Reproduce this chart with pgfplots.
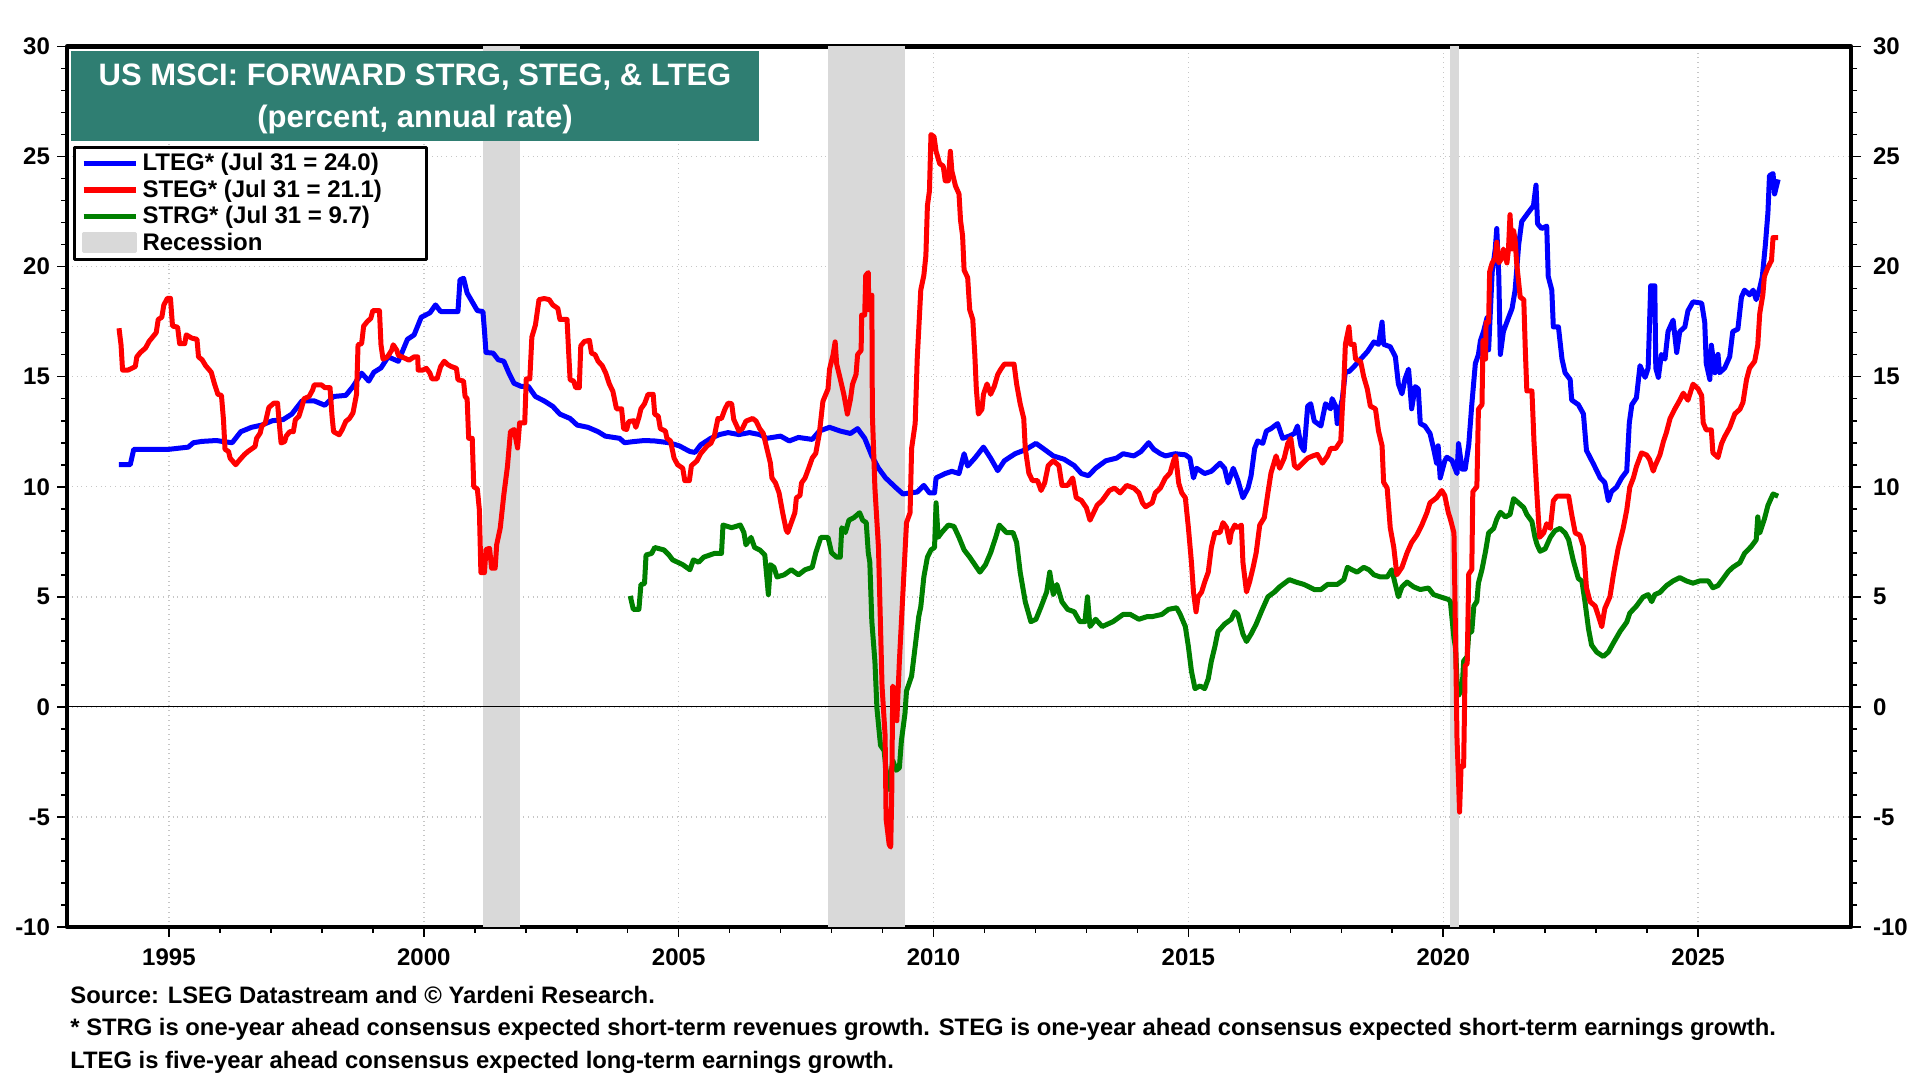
\documentclass[border=0pt]{standalone}
\usepackage{fontspec}
\setmainfont{Liberation Sans}
\usepackage{pgfplots}
\pgfplotsset{compat=1.18}
\definecolor{recgray}{RGB}{217,217,217}
\definecolor{titlegreen}{RGB}{47,126,114}
\definecolor{ltegblue}{RGB}{0,0,255}
\definecolor{stegred}{RGB}{255,0,0}
\definecolor{strggreen}{RGB}{0,128,0}
\newcommand{\tf}{\fontsize{12}{14}\selectfont\bfseries}
\pgfplotsset{
  mylegline/.style={legend image code/.code={\draw[##1] (0pt,0pt) -- (26pt,0pt);}},
  myleggray/.style={legend image code/.code={\fill[recgray] (0pt,-4.5pt) rectangle (26pt,4.5pt);}},
}
\begin{document}
\begin{tikzpicture}[x=1pt,y=1pt]
\useasboundingbox (0,0) rectangle (960,540);
\begin{axis}[
  at={(33.5pt,76.5pt)}, anchor=south west,
  scale only axis, width=892pt, height=440.25pt,
  xmin=1993, xmax=2028, ymin=-10, ymax=30,
  xtick={1995,2000,...,2025}, minor x tick num=4,
  ytick={-10,-5,...,30}, minor y tick num=4,
  tick align=outside, xtick pos=bottom, ytick pos=both, yticklabel pos=left,
  major tick length=5pt, minor tick length=3pt,
  tick style={black, line width=0.8pt},
  axis line style={line width=2.2pt},
  xmajorgrids, ymajorgrids,
  major grid style={gray!45, dotted, line width=0.7pt},
  /pgf/number format/assume math mode=true,
  /pgf/number format/1000 sep={},
  ticklabel style={font=\tf},
  xticklabel style={yshift=-2.5pt},
  legend style={at={(0.0036,0.887)}, anchor=north west, draw=black, line width=1.5pt,
    fill=white, font=\tf, inner xsep=3pt, inner ysep=1pt, row sep=-1pt},
  legend cell align=left,
  line join=round,
]
% recession bands
\addplot[fill=recgray, draw=none, forget plot] coordinates {(2001.17,-10) (2001.17,30) (2001.88,30) (2001.88,-10)} -- cycle;
\addplot[fill=recgray, draw=none, forget plot] coordinates {(2007.93,-10) (2007.93,30) (2009.45,30) (2009.45,-10)} -- cycle;
\addplot[fill=recgray, draw=none, forget plot] coordinates {(2020.13,-10) (2020.13,30) (2020.30,30) (2020.30,-10)} -- cycle;
% zero line
\addplot[black, line width=0.6pt, forget plot] coordinates {(1993,0) (2028,0)};

\addlegendimage{ltegblue, line width=2.8pt, mylegline}
\addlegendentry{\makebox[137pt][l]{LTEG* (Jul 31 = 24.0)}}
\addlegendimage{stegred, line width=2.8pt, mylegline}
\addlegendentry{STEG* (Jul 31 = 21.1)}
\addlegendimage{strggreen, line width=2.8pt, mylegline}
\addlegendentry{STRG* (Jul 31 = 9.7)}
\addlegendimage{myleggray}
\addlegendentry{Recession}

% STRG
\addplot[strggreen, line width=2.5pt, forget plot] coordinates {
(2004.05,5.04) (2004.11,4.43) (2004.22,4.43) (2004.26,5.56) (2004.33,5.6) (2004.36,6.9) (2004.47,6.97) (2004.53,7.24)
(2004.71,7.13) (2004.81,6.9) (2004.88,6.68) (2005.08,6.46) (2005.22,6.23) (2005.29,6.68) (2005.39,6.57) (2005.49,6.8)
(2005.70,6.97) (2005.84,6.97) (2005.87,8.26) (2006.04,8.14) (2006.21,8.26) (2006.28,7.92) (2006.32,7.36) (2006.42,7.7)
(2006.49,7.24) (2006.59,7.13) (2006.69,6.9) (2006.76,5.1) (2006.80,6.46) (2006.87,6.34) (2006.93,5.9) (2007.07,6.0)
(2007.21,6.23) (2007.35,6.0) (2007.48,6.23) (2007.62,6.34) (2007.69,7.0) (2007.79,7.7) (2007.93,7.7) (2008.00,7.0)
(2008.10,6.8) (2008.17,6.8) (2008.20,8.14) (2008.27,7.92) (2008.34,8.48) (2008.44,8.6) (2008.55,8.82) (2008.61,8.48)
(2008.68,8.37) (2008.72,7.0) (2008.75,6.57) (2008.79,3.87) (2008.85,2.07) (2008.89,-0.07) (2008.96,-1.75) (2009.03,-1.98)
(2009.07,-2.88) (2009.13,-3.75) (2009.20,-2.43) (2009.27,-2.88) (2009.33,-2.77) (2009.37,-1.53) (2009.44,-0.3) (2009.47,0.72)
(2009.57,1.4) (2009.64,2.74) (2009.71,4.1) (2009.75,4.55) (2009.81,5.9) (2009.88,6.8) (2009.95,7.13) (2010.02,7.24)
(2010.05,9.27) (2010.09,7.7) (2010.16,7.92) (2010.29,8.26) (2010.40,8.2) (2010.50,7.7) (2010.60,7.13) (2010.71,6.8)
(2010.81,6.46) (2010.91,6.12) (2011.02,6.46) (2011.12,7.0) (2011.22,7.7) (2011.29,8.26) (2011.43,7.92) (2011.56,7.92)
(2011.63,7.47) (2011.70,6.12) (2011.80,4.77) (2011.91,3.87) (2012.01,3.98) (2012.11,4.55) (2012.22,5.22) (2012.28,6.12)
(2012.35,5.1) (2012.42,5.56) (2012.52,4.77) (2012.63,4.43) (2012.76,4.32) (2012.87,3.87) (2012.97,3.87) (2013.02,5.0)
(2013.07,3.65) (2013.18,3.98) (2013.31,3.65) (2013.52,3.87) (2013.72,4.2) (2013.86,4.2) (2014.03,3.98) (2014.19,4.1)
(2014.29,4.1) (2014.48,4.2) (2014.61,4.43) (2014.77,4.5) (2014.84,4.2) (2014.94,3.65) (2015.00,2.74) (2015.06,1.62)
(2015.13,0.83) (2015.23,0.95) (2015.32,0.83) (2015.39,1.28) (2015.45,2.07) (2015.52,2.74) (2015.58,3.42) (2015.71,3.76)
(2015.84,3.98) (2015.91,4.32) (2015.97,4.2) (2016.07,3.31) (2016.14,2.97) (2016.23,3.31) (2016.33,3.76) (2016.43,4.32)
(2016.56,5.0) (2016.69,5.22) (2016.79,5.45) (2016.98,5.78) (2017.11,5.67) (2017.27,5.56) (2017.47,5.33) (2017.60,5.33)
(2017.73,5.56) (2017.92,5.56) (2018.05,5.78) (2018.12,6.34) (2018.21,6.23) (2018.31,6.12) (2018.44,6.34) (2018.54,6.23)
(2018.64,6.0) (2018.77,5.9) (2018.90,5.9) (2018.99,6.23) (2019.06,5.56) (2019.12,5.0) (2019.19,5.45) (2019.29,5.67)
(2019.42,5.45) (2019.55,5.33) (2019.71,5.4) (2019.81,5.1) (2019.94,5.0) (2020.10,4.88) (2020.14,4.78) (2020.21,3.12)
(2020.24,2.7) (2020.27,1.25) (2020.30,0.52) (2020.37,0.83) (2020.40,2.08) (2020.47,2.29) (2020.50,3.33) (2020.56,3.43)
(2020.60,4.58) (2020.66,4.79) (2020.69,5.62) (2020.76,6.24) (2020.83,7.07) (2020.89,7.9) (2020.99,8.11) (2021.05,8.53)
(2021.12,8.84) (2021.22,8.63) (2021.31,8.74) (2021.38,9.46) (2021.48,9.26) (2021.58,9.05) (2021.64,8.74) (2021.74,8.42)
(2021.80,7.7) (2021.84,7.38) (2021.90,7.07) (2022.00,7.18) (2022.10,7.7) (2022.19,8.0) (2022.29,8.11) (2022.39,7.9)
(2022.46,7.59) (2022.55,6.66) (2022.65,5.83) (2022.72,5.72) (2022.78,4.78) (2022.85,3.54) (2022.91,2.81) (2023.01,2.49)
(2023.14,2.29) (2023.24,2.49) (2023.34,2.91) (2023.47,3.43) (2023.60,3.85) (2023.66,4.26) (2023.79,4.58) (2023.92,4.99)
(2024.02,5.1) (2024.09,4.78) (2024.15,5.1) (2024.25,5.2) (2024.38,5.51) (2024.51,5.72) (2024.64,5.87) (2024.77,5.72)
(2024.90,5.62) (2025.03,5.72) (2025.20,5.72) (2025.29,5.41) (2025.39,5.51) (2025.49,5.82) (2025.59,6.14) (2025.68,6.34)
(2025.82,6.55) (2025.91,6.97) (2026.04,7.28) (2026.14,7.59) (2026.17,8.63) (2026.21,7.9) (2026.30,8.53) (2026.37,9.15)
(2026.47,9.67) (2026.57,9.57)
};
% LTEG
\addplot[ltegblue, line width=2.5pt, forget plot] coordinates {
(1994.02,11.0) (1994.24,11.0) (1994.31,11.7) (1995.0,11.7) (1995.38,11.8) (1995.48,12.0) (1995.65,12.06) (1995.93,12.1)
(1996.07,12.05) (1996.24,12.0) (1996.41,12.5) (1996.62,12.7) (1996.82,12.8) (1997.03,13.0) (1997.24,13.05) (1997.41,13.3)
(1997.61,13.9) (1997.85,13.9) (1998.06,13.7) (1998.23,14.1) (1998.47,14.15) (1998.61,14.55) (1998.78,15.16) (1998.92,14.8)
(1999.02,15.2) (1999.16,15.4) (1999.30,15.9) (1999.50,15.7) (1999.68,16.7) (1999.81,16.9) (1999.95,17.7) (2000.12,17.9)
(2000.23,18.26) (2000.33,17.96) (2000.67,17.96) (2000.71,19.4) (2000.78,19.47) (2000.85,18.8) (2000.95,18.4) (2001.05,18.0)
(2001.16,17.96) (2001.19,17.1) (2001.22,16.1) (2001.36,16.07) (2001.46,15.77) (2001.57,15.7) (2001.67,15.16) (2001.77,14.7)
(2001.91,14.56) (2002.05,14.56) (2002.19,14.1) (2002.36,13.9) (2002.53,13.65) (2002.67,13.3) (2002.87,13.1) (2003.01,12.8)
(2003.22,12.7) (2003.42,12.5) (2003.56,12.3) (2003.84,12.2) (2003.94,12.0) (2004.11,12.05) (2004.33,12.1) (2004.53,12.08)
(2004.81,12.0) (2005.01,11.86) (2005.22,11.6) (2005.32,11.56) (2005.43,11.9) (2005.63,12.2) (2005.80,12.37) (2005.97,12.46)
(2006.18,12.37) (2006.39,12.46) (2006.59,12.37) (2006.73,12.2) (2007.00,12.3) (2007.17,12.08) (2007.35,12.24) (2007.62,12.15)
(2007.76,12.53) (2007.96,12.7) (2008.17,12.53) (2008.37,12.42) (2008.51,12.64) (2008.65,12.2) (2008.79,11.4) (2008.92,10.84)
(2009.06,10.4) (2009.27,9.94) (2009.40,9.67) (2009.54,9.72) (2009.68,9.76) (2009.81,10.06) (2009.92,9.72) (2010.02,9.72)
(2010.05,10.4) (2010.23,10.6) (2010.36,10.7) (2010.50,10.6) (2010.60,11.5) (2010.67,10.94) (2010.81,11.3) (2010.98,11.8)
(2011.12,11.3) (2011.26,10.73) (2011.39,11.18) (2011.60,11.5) (2011.80,11.68) (2012.01,11.97) (2012.15,11.74) (2012.35,11.4)
(2012.56,11.25) (2012.76,10.96) (2012.90,10.6) (2013.04,10.5) (2013.18,10.84) (2013.38,11.18) (2013.59,11.3) (2013.72,11.5)
(2013.93,11.4) (2014.07,11.6) (2014.22,12.0) (2014.32,11.7) (2014.45,11.5) (2014.55,11.4) (2014.74,11.5) (2014.94,11.45)
(2015.03,11.3) (2015.10,10.4) (2015.16,10.84) (2015.32,10.6) (2015.45,10.7) (2015.62,11.07) (2015.71,10.84) (2015.78,10.17)
(2015.88,10.84) (2015.97,10.3) (2016.07,9.5) (2016.17,9.94) (2016.23,10.5) (2016.30,11.74) (2016.36,12.08) (2016.46,11.97)
(2016.53,12.53) (2016.62,12.64) (2016.75,12.87) (2016.85,12.2) (2016.98,12.3) (2017.08,12.42) (2017.14,12.76) (2017.21,11.86)
(2017.27,11.63) (2017.34,13.66) (2017.40,13.77) (2017.47,12.98) (2017.60,12.76) (2017.69,13.77) (2017.79,13.54) (2017.82,14.0)
(2017.89,13.66) (2017.92,12.87) (2018.02,14.0) (2018.08,15.23) (2018.15,15.23) (2018.25,15.46) (2018.38,15.8) (2018.51,16.13)
(2018.64,16.58) (2018.73,16.47) (2018.80,17.48) (2018.83,16.47) (2018.96,16.36) (2019.06,15.91) (2019.12,14.67) (2019.19,14.22)
(2019.25,14.9) (2019.32,15.34) (2019.38,13.54) (2019.45,14.55) (2019.51,14.44) (2019.55,12.87) (2019.64,12.76) (2019.74,12.42)
(2019.81,11.74) (2019.87,11.07) (2019.90,11.86) (2019.94,10.4) (2020.03,11.18) (2020.07,11.34) (2020.17,11.2) (2020.27,10.6)
(2020.30,11.96) (2020.37,10.8) (2020.43,10.8) (2020.50,11.9) (2020.56,13.73) (2020.63,15.6) (2020.69,16.0) (2020.73,16.64)
(2020.79,17.05) (2020.86,17.68) (2020.89,16.22) (2020.96,19.76) (2021.02,20.8) (2021.05,21.73) (2021.09,19.55) (2021.12,16.01)
(2021.18,17.05) (2021.28,17.68) (2021.35,18.1) (2021.41,18.93) (2021.48,21.0) (2021.54,22.05) (2021.67,22.46) (2021.77,22.77)
(2021.82,23.7) (2021.85,21.95) (2021.93,21.73) (2022.03,21.84) (2022.06,19.55) (2022.13,18.93) (2022.16,17.26) (2022.26,17.26)
(2022.33,15.8) (2022.39,15.18) (2022.49,14.87) (2022.52,13.94) (2022.65,13.73) (2022.75,13.31) (2022.81,11.65) (2022.95,11.02)
(2023.08,10.4) (2023.17,10.19) (2023.24,9.36) (2023.30,9.78) (2023.40,9.98) (2023.50,10.4) (2023.60,10.71) (2023.65,12.9)
(2023.70,13.73) (2023.79,14.04) (2023.86,15.5) (2023.96,14.97) (2024.02,15.39) (2024.07,19.13) (2024.15,19.13) (2024.17,15.39)
(2024.22,14.97) (2024.28,16.01) (2024.35,15.8) (2024.41,17.05) (2024.51,17.57) (2024.58,16.1) (2024.64,17.05) (2024.74,17.26)
(2024.80,17.99) (2024.90,18.4) (2025.07,18.34) (2025.13,17.47) (2025.16,15.6) (2025.23,14.87) (2025.26,16.43) (2025.33,15.18)
(2025.39,16.01) (2025.42,15.18) (2025.52,15.39) (2025.62,15.91) (2025.68,17.05) (2025.78,17.16) (2025.85,18.61) (2025.91,18.93)
(2026.01,18.72) (2026.08,18.93) (2026.14,18.5) (2026.21,19.03) (2026.26,19.55) (2026.32,21.0) (2026.37,22.46) (2026.40,24.13)
(2026.47,24.23) (2026.50,23.3) (2026.57,23.96)
};
% STEG
\addplot[stegred, line width=2.5pt, forget plot] coordinates {
(1994.02,17.2) (1994.06,16.45) (1994.09,15.3) (1994.20,15.3) (1994.34,15.46) (1994.37,15.9) (1994.44,16.1) (1994.54,16.3)
(1994.61,16.6) (1994.68,16.8) (1994.75,17.0) (1994.79,17.6) (1994.86,17.7) (1994.90,18.26) (1994.97,18.56) (1995.03,18.56)
(1995.07,17.3) (1995.17,17.25) (1995.21,16.5) (1995.31,16.5) (1995.34,16.9) (1995.45,16.75) (1995.55,16.7) (1995.58,15.9)
(1995.65,15.77) (1995.72,15.5) (1995.83,15.2) (1995.89,14.7) (1995.96,14.2) (1996.03,14.15) (1996.07,13.04) (1996.10,11.7)
(1996.17,11.6) (1996.20,11.3) (1996.31,11.0) (1996.38,11.2) (1996.48,11.46) (1996.55,11.6) (1996.69,11.83) (1996.72,12.2)
(1996.79,12.44) (1996.82,12.74) (1996.89,12.9) (1996.96,13.6) (1997.06,13.8) (1997.13,13.8) (1997.17,12.74) (1997.20,11.99)
(1997.27,12.05) (1997.30,12.3) (1997.37,12.5) (1997.44,12.5) (1997.48,13.04) (1997.55,13.2) (1997.61,13.65) (1997.65,14.0)
(1997.75,14.1) (1997.82,14.4) (1997.85,14.63) (1997.99,14.63) (1998.06,14.5) (1998.16,14.5) (1998.20,13.2) (1998.23,12.5)
(1998.34,12.36) (1998.40,12.6) (1998.47,12.97) (1998.54,13.1) (1998.61,13.35) (1998.68,14.2) (1998.71,16.45) (1998.78,16.5)
(1998.82,17.3) (1998.89,17.5) (1998.96,17.65) (1999.00,18.0) (1999.13,18.0) (1999.16,16.45) (1999.20,15.8) (1999.27,15.88)
(1999.30,15.95) (1999.37,16.2) (1999.40,16.45) (1999.47,16.2) (1999.50,15.97) (1999.57,15.9) (1999.71,15.75) (1999.81,15.9)
(1999.88,15.9) (1999.89,15.3) (1999.98,15.3) (2000.05,15.38) (2000.12,15.16) (2000.16,14.9) (2000.26,14.9) (2000.33,15.46)
(2000.40,15.7) (2000.47,15.55) (2000.54,15.46) (2000.64,15.38) (2000.67,14.86) (2000.78,14.8) (2000.81,14.1) (2000.85,14.0)
(2000.88,12.2) (2000.95,12.2) (2000.98,10.0) (2001.05,9.9) (2001.09,8.96) (2001.12,6.1) (2001.19,6.1) (2001.22,7.15)
(2001.29,7.2) (2001.33,6.3) (2001.40,6.3) (2001.43,7.37) (2001.50,8.13) (2001.57,9.64) (2001.64,10.9) (2001.70,12.5)
(2001.77,12.6) (2001.84,11.76) (2001.88,12.9) (2001.98,12.9) (2002.01,14.9) (2002.08,14.9) (2002.12,16.8) (2002.19,17.35)
(2002.26,18.5) (2002.36,18.55) (2002.46,18.5) (2002.53,18.26) (2002.63,18.1) (2002.67,17.6) (2002.81,17.6) (2002.84,16.2)
(2002.87,14.86) (2002.94,14.8) (2002.98,14.5) (2003.05,14.5) (2003.08,16.4) (2003.15,16.6) (2003.25,16.65) (2003.29,16.07)
(2003.36,16.0) (2003.42,15.7) (2003.50,15.5) (2003.57,15.16) (2003.64,14.67) (2003.71,14.33) (2003.78,13.54) (2003.88,13.54)
(2003.92,12.64) (2003.98,12.6) (2004.02,12.96) (2004.12,13.0) (2004.16,12.7) (2004.22,13.15) (2004.26,13.54) (2004.33,13.77)
(2004.40,14.2) (2004.50,14.2) (2004.53,13.3) (2004.60,13.2) (2004.64,12.64) (2004.74,12.53) (2004.77,12.2) (2004.84,12.08)
(2004.91,11.3) (2004.98,11.0) (2005.08,10.84) (2005.12,10.28) (2005.21,10.28) (2005.25,10.96) (2005.36,11.18) (2005.43,11.5)
(2005.56,11.86) (2005.63,11.97) (2005.70,12.3) (2005.77,13.1) (2005.84,13.1) (2005.91,13.54) (2005.97,13.8) (2006.04,13.77)
(2006.08,13.06) (2006.15,12.71) (2006.18,12.53) (2006.25,12.64) (2006.32,12.98) (2006.45,13.1) (2006.52,12.98) (2006.59,12.64)
(2006.66,12.42) (2006.73,11.74) (2006.80,11.07) (2006.83,10.4) (2006.90,10.17) (2006.97,9.72) (2007.04,8.82) (2007.11,8.03)
(2007.14,7.92) (2007.21,8.37) (2007.28,8.82) (2007.31,9.5) (2007.38,9.6) (2007.41,10.17) (2007.48,10.4) (2007.55,10.84)
(2007.62,11.3) (2007.69,11.52) (2007.76,12.42) (2007.83,13.88) (2007.93,14.44) (2007.96,15.34) (2008.03,16.0) (2008.07,16.58)
(2008.10,15.57) (2008.17,14.9) (2008.24,14.2) (2008.31,13.3) (2008.37,13.97) (2008.41,14.65) (2008.48,15.1) (2008.51,16.0)
(2008.58,16.2) (2008.59,17.8) (2008.65,17.8) (2008.67,19.6) (2008.72,19.73) (2008.73,18.04) (2008.79,18.7) (2008.80,13.3)
(2008.85,9.94) (2008.92,7.24) (2008.99,0.94) (2009.05,-1.3) (2009.07,-5.1) (2009.13,-6.25) (2009.16,-6.37) (2009.18,-4.0)
(2009.20,0.94) (2009.25,0.72) (2009.28,-0.63) (2009.33,2.07) (2009.40,5.2) (2009.47,8.37) (2009.54,8.82) (2009.57,11.74)
(2009.64,12.87) (2009.68,15.8) (2009.71,17.14) (2009.75,18.94) (2009.81,19.6) (2009.85,20.5) (2009.88,22.77) (2009.92,23.44)
(2009.95,26.0) (2010.01,25.9) (2010.05,25.24) (2010.12,24.68) (2010.19,24.57) (2010.23,23.9) (2010.29,23.9) (2010.33,25.24)
(2010.36,24.34) (2010.43,23.67) (2010.50,23.3) (2010.53,22.1) (2010.57,21.4) (2010.60,19.84) (2010.67,19.5) (2010.71,18.04)
(2010.77,17.6) (2010.81,16.0) (2010.84,14.44) (2010.88,13.3) (2010.95,13.52) (2010.98,14.2) (2011.05,14.67) (2011.12,14.2)
(2011.19,14.55) (2011.26,15.1) (2011.32,15.34) (2011.39,15.57) (2011.50,15.57) (2011.58,15.57) (2011.63,14.67) (2011.70,13.77)
(2011.77,13.1) (2011.80,11.74) (2011.87,10.62) (2011.94,10.28) (2012.04,10.28) (2012.11,9.83) (2012.18,10.17) (2012.25,10.96)
(2012.35,11.18) (2012.46,10.96) (2012.52,10.06) (2012.63,10.06) (2012.73,10.4) (2012.80,9.5) (2012.90,9.38) (2013.00,9.04)
(2013.07,8.48) (2013.14,8.82) (2013.21,9.16) (2013.31,9.38) (2013.45,9.83) (2013.55,9.94) (2013.66,9.72) (2013.79,10.06)
(2013.93,9.94) (2014.03,9.72) (2014.10,9.27) (2014.16,9.09) (2014.29,9.27) (2014.35,9.72) (2014.45,9.94) (2014.55,10.4)
(2014.64,10.62) (2014.71,11.18) (2014.75,11.4) (2014.81,10.17) (2014.87,9.72) (2014.94,9.5) (2015.00,8.14) (2015.06,6.57)
(2015.10,5.22) (2015.15,4.32) (2015.19,4.99) (2015.26,5.22) (2015.32,5.67) (2015.39,6.12) (2015.45,7.24) (2015.52,7.92)
(2015.62,7.92) (2015.68,8.37) (2015.75,8.14) (2015.81,7.47) (2015.84,7.92) (2015.91,8.26) (2015.97,8.14) (2016.04,8.26)
(2016.07,6.57) (2016.14,5.22) (2016.20,5.67) (2016.27,6.34) (2016.33,7.0) (2016.40,8.26) (2016.49,8.6) (2016.56,9.72)
(2016.62,10.62) (2016.72,11.4) (2016.79,10.84) (2016.88,11.3) (2016.95,11.97) (2017.01,12.2) (2017.08,10.96) (2017.14,10.84)
(2017.24,11.07) (2017.34,11.3) (2017.44,11.4) (2017.53,11.47) (2017.63,11.07) (2017.73,11.4) (2017.79,11.74) (2017.89,11.74)
(2017.99,12.08) (2018.02,13.54) (2018.05,14.67) (2018.08,16.47) (2018.15,17.26) (2018.18,16.47) (2018.25,16.47) (2018.28,15.8)
(2018.38,15.68) (2018.44,15.0) (2018.51,14.44) (2018.57,13.66) (2018.67,13.54) (2018.73,12.53) (2018.80,11.86) (2018.83,10.2)
(2018.90,9.94) (2018.96,8.14) (2019.03,7.24) (2019.09,6.0) (2019.19,6.34) (2019.29,7.0) (2019.38,7.47) (2019.48,7.8)
(2019.58,8.26) (2019.68,8.82) (2019.74,9.27) (2019.87,9.5) (2019.97,9.83) (2020.03,9.6) (2020.10,8.82) (2020.14,8.53)
(2020.21,7.9) (2020.24,3.33) (2020.27,-1.46) (2020.30,-3.33) (2020.32,-4.78) (2020.35,-2.7) (2020.40,-2.7) (2020.43,1.87)
(2020.47,1.97) (2020.50,6.03) (2020.56,6.24) (2020.58,9.78) (2020.66,10.0) (2020.69,13.52) (2020.76,13.73) (2020.78,16.64)
(2020.83,15.8) (2020.84,17.47) (2020.89,17.47) (2020.91,19.76) (2020.96,20.17) (2021.02,20.38) (2021.05,21.11) (2021.09,20.17)
(2021.15,20.38) (2021.18,20.8) (2021.25,20.17) (2021.28,20.8) (2021.31,22.36) (2021.35,20.8) (2021.38,21.63) (2021.41,21.22)
(2021.44,20.17) (2021.51,18.61) (2021.58,18.5) (2021.61,16.22) (2021.64,14.35) (2021.74,14.35) (2021.78,12.06) (2021.84,9.57)
(2021.89,7.7) (2021.97,7.9) (2022.03,8.32) (2022.10,8.11) (2022.16,9.36) (2022.23,9.57) (2022.36,9.57) (2022.46,9.57)
(2022.52,8.74) (2022.59,7.9) (2022.68,7.8) (2022.75,7.28) (2022.81,5.41) (2022.88,4.78) (2022.98,4.58) (2023.04,4.16)
(2023.11,3.64) (2023.17,4.47) (2023.27,5.0) (2023.34,6.03) (2023.43,7.18) (2023.53,8.11) (2023.60,8.94) (2023.66,9.98)
(2023.73,10.4) (2023.79,10.92) (2023.89,11.54) (2023.99,11.44) (2024.05,11.23) (2024.12,10.71) (2024.15,10.92) (2024.25,11.44)
(2024.32,12.06) (2024.38,12.48) (2024.45,13.1) (2024.54,13.52) (2024.64,13.93) (2024.71,14.25) (2024.80,13.93) (2024.90,14.66)
(2025.00,14.45) (2025.07,14.14) (2025.10,12.9) (2025.16,12.58) (2025.26,12.58) (2025.29,11.54) (2025.39,11.33) (2025.46,11.96)
(2025.52,12.27) (2025.62,12.69) (2025.72,13.31) (2025.82,13.52) (2025.88,13.83) (2025.95,14.87) (2026.01,15.39) (2026.11,15.7)
(2026.17,16.43) (2026.21,17.89) (2026.27,18.72) (2026.30,19.55) (2026.37,19.97) (2026.44,20.28) (2026.47,21.32) (2026.57,21.32)
};
\end{axis}
% right-hand tick labels
\begin{axis}[
  at={(33.5pt,76.5pt)}, anchor=south west,
  scale only axis, width=892pt, height=440.25pt,
  xmin=1993, xmax=2028, ymin=-10, ymax=30,
  axis x line=none, axis y line*=right,
  axis line style={draw=none},
  ytick={-10,-5,...,30}, major tick length=0pt,
  yticklabel pos=right,
  /pgf/number format/assume math mode=true,
  ticklabel style={font=\tf},
  yticklabel style={xshift=7.5pt},
]
\addplot[draw=none] coordinates {(1993,0)};
\end{axis}
% title box
\fill[titlegreen] (35.5,469.5) rectangle (379.5,514.5);
\node[text=white, font=\fontsize{15.5}{18}\selectfont\bfseries] at (207.5,501.4) {US MSCI: FORWARD STRG, STEG, \& LTEG};
\node[text=white, font=\fontsize{15.5}{18}\selectfont\bfseries] at (207.5,480.0) {(percent, annual rate)};
% footnotes
\node[anchor=base west, inner sep=0, font=\fontsize{11.9}{14}\selectfont\bfseries] at (35,38.0) {Source: LSEG Datastream and © Yardeni Research.};
\node[anchor=base west, inner sep=0, font=\fontsize{11.9}{14}\selectfont\bfseries] at (35,22.1) {* STRG is one-year ahead consensus expected short-term revenues growth. STEG is one-year ahead consensus expected short-term earnings growth.};
\node[anchor=base west, inner sep=0, font=\fontsize{11.9}{14}\selectfont\bfseries] at (35,5.6) {LTEG is five-year ahead consensus expected long-term earnings growth.};
\end{tikzpicture}
\end{document}
